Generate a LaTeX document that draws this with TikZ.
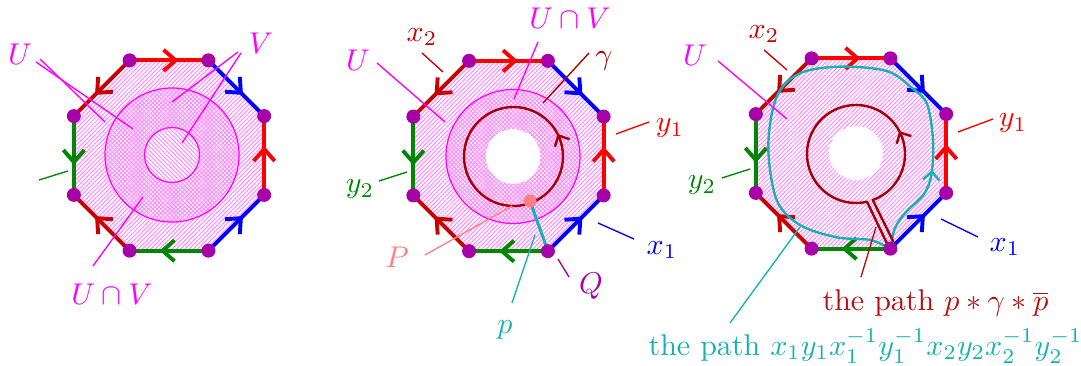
\documentclass[tikz,border=0pt]{standalone}
\usetikzlibrary{patterns.meta,decorations.markings,arrows.meta,calc}
\definecolor{mag}{RGB}{255,0,255}
\definecolor{dotc}{RGB}{168,0,168}
\definecolor{xtwo}{RGB}{200,0,0}
\definecolor{gamc}{RGB}{165,0,0}
\definecolor{ygreen}{RGB}{0,135,0}
\definecolor{tealc}{RGB}{20,178,178}
\definecolor{salm}{RGB}{255,128,128}
\definecolor{pathred}{RGB}{185,15,15}
\definecolor{hatchc}{RGB}{255,140,255}
\tikzset{
  edgeline/.style={line width=1.3pt, postaction={decorate}, decoration={markings, mark=at position 0.62 with {\arrow[line width=1.3pt]{Straight Barb[length=4pt,width=7pt]}}}},
  smallarrow/.style={decoration={markings, mark=at position 0.5 with {\arrow[line width=0.8pt]{Straight Barb[length=2.8pt,width=5.5pt]}}}, postaction={decorate}},
  vdot/.style={fill=dotc},
  ptr/.style={line width=0.45pt},
  hatchNE/.style={pattern={Lines[angle=45,distance=1pt,line width=0.35pt]}, pattern color=hatchc},
  hatchNW/.style={pattern={Lines[angle=-45,distance=1pt,line width=0.35pt]}, pattern color=hatchc},
  lab/.style={inner sep=0pt},
}
\newcommand{\octpts}[3]{%
  \foreach \a/\s in {-67.5/TR,-22.5/RT,22.5/RB,67.5/BR,112.5/BL,157.5/LB,202.5/LT,247.5/TL}{%
    \coordinate (#1\s) at ($(#2,#3)+(\a:103)$);}%
}
\newcommand{\octfill}[4]{%
  \fill[hatchNE, even odd rule] (#1TR) -- (#1RT) -- (#1RB) -- (#1BR) -- (#1BL) -- (#1LB) -- (#1LT) -- (#1TL) -- cycle (#2,#3) circle[radius=#4];}
\newcommand{\octedges}[1]{%
  \draw[edgeline, blue] (#1BR) -- (#1RB);
  \draw[edgeline, red] (#1RB) -- (#1RT);
  \draw[edgeline, blue] (#1TR) -- (#1RT);
  \draw[edgeline, red] (#1TL) -- (#1TR);
  \draw[edgeline, xtwo] (#1TL) -- (#1LT);
  \draw[edgeline, ygreen] (#1LT) -- (#1LB);
  \draw[edgeline, xtwo] (#1BL) -- (#1LB);
  \draw[edgeline, ygreen] (#1BR) -- (#1BL);}
\newcommand{\octdots}[1]{\foreach \s in {TR,RT,RB,BR,BL,LB,LT,TL}{\fill[vdot] (#1\s) circle[radius=7];}}
\newcommand{\ptrline}[4]{\coordinate (#2s) at (#3); \coordinate (#2e) at (#4); \draw[ptr,#1] (#2s) -- (#2e);}
\begin{document}
\begin{tikzpicture}[x=0.33333pt,y=-0.33333pt]
\useasboundingbox (0,0) rectangle (1081,366);
\octpts{a}{169}{155.5}
\octpts{b}{508.5}{156}
\octpts{c}{851}{153.5}
% ---------- panel 1
\octfill{a}{172}{155}{27.5}
\fill[hatchNW] (172,155) circle[radius=67];
\draw[mag, line width=0.4pt] (172,155) circle[radius=67] (172,155) circle[radius=27.5];
\octedges{a}
\octdots{a}
\node[lab,text=mag] (U1) at (20,54) {$U$};
\node[lab,text=mag] (V1) at (261,43) {$V$};
\node[lab,text=mag] (UV1) at (112,294) {$U\cap V$};
\ptrline{mag}{pu1}{40,59}{105,122}
\ptrline{mag}{pu2}{36,62}{133,129}
\ptrline{mag}{pv1}{238,52}{172,102}
\ptrline{mag}{pv2}{241,53}{182,143}
\ptrline{mag}{puv}{93,266}{143,197}
\ptrline{ygreen}{py}{39,180}{68,171}
% ---------- panel 2
\octfill{b}{513}{156.5}{27.5}
\fill[hatchNW, even odd rule] (513,156.5) circle[radius=67] (513,156.5) circle[radius=27.5];
\draw[mag, line width=0.4pt] (513,156.5) circle[radius=67];
\octedges{b}
\coordinate (g2) at (513.5,156.5);
\draw[gamc, line width=0.8pt] (g2) circle[radius=49.5];
\coordinate (g2a) at (559.9,138.5);
\coordinate (g2b) at (555.3,129.5);
\path[gamc, smallarrow] (g2a) -- (g2b);
\coordinate (P) at (530,201);
\draw[tealc, line width=1pt] (P) -- (bBR);
\fill[salm] (P) circle[radius=6.5];
\octdots{b}
\node[lab,text=xtwo] (X2b) at (422,37) {$x_2$};
\node[lab,text=mag] (U2) at (358,60) {$U$};
\node[lab,text=mag] (UV2) at (570,18) {$U\cap V$};
\node[lab,text=gamc] (G2) at (604,61) {$\gamma$};
\node[lab,text=red] (Y1b) at (670,128) {$y_1$};
\node[lab,text=ygreen] (Y2b) at (360,189) {$y_2$};
\node[lab,text=blue] (X1b) at (662,250) {$x_1$};
\node[lab,text=salm] (PL) at (397,257) {$P$};
\node[lab,text=dotc] (QL) at (591,286) {$Q$};
\node[lab,text=tealc] (pl) at (505,330) {$p$};
\ptrline{xtwo}{bx2}{422,53}{443,72}
\ptrline{mag}{bu}{377,63}{445,122}
\ptrline{mag}{buv}{538,42}{514,99}
\ptrline{gamc}{bg}{589,53}{543,103}
\ptrline{red}{by1}{649,122}{616,134}
\ptrline{ygreen}{by2}{379,181}{407,172}
\ptrline{blue}{bx1}{634,239}{598,223}
\ptrline{salm}{bP}{425,255}{512,206}
\ptrline{dotc}{bQ}{569,277}{558,259}
\ptrline{tealc}{bp}{512,303}{535,235}
% ---------- panel 3
\octfill{c}{856}{153}{27}
\octedges{c}
\coordinate (g3) at (856,154);
\coordinate (Qr) at (893.5,242);
\coordinate (Ql) at (887,243.5);
\draw[tealc, line width=0.8pt]
  plot[smooth, tension=0.55] coordinates {(cBR) (895,228) (906,212) (924,194) (931.5,174) (933,140) (927,104) (912,88) (886.7,71) (840,66.7) (800,73.3) (776.7,96.7) (768.3,146.7) (776.7,200) (800,225) (836.7,237.3) (870,240) (cBR)};
\coordinate (ca) at (931.6,176);
\coordinate (cb) at (932.4,164);
\path[tealc, smallarrow] (ca) -- (cb);
\draw[gamc, line width=0.8pt, line join=round] (Qr) -- ($(g3)+(70:49)$) arc[start angle=70, end angle=-283, radius=49] -- (Ql);
\coordinate (g3a) at (901.6,135.4);
\coordinate (g3b) at (897,126.6);
\path[gamc, smallarrow] (g3a) -- (g3b);
\octdots{c}
\node[lab,text=xtwo] (X2c) at (764,34) {$x_2$};
\node[lab,text=mag] (U3) at (695,55) {$U$};
\node[lab,text=red] (Y1c) at (1013,123) {$y_1$};
\node[lab,text=ygreen] (Y2c) at (702,185) {$y_2$};
\node[lab,text=blue] (X1c) at (1005,247) {$x_1$};
\node[lab,text=pathred,anchor=base west] (T1) at (822,311) {the path $p*\gamma*\overline{p}$};
\node[lab,text=tealc,anchor=base west] (T2) at (648,355) {the path $x_1y_1x_1^{-1}y_1^{-1}x_2y_2x_2^{-1}y_2^{-1}$};
\ptrline{xtwo}{cx2}{764,50}{787,70}
\ptrline{mag}{cu}{718,61}{787,119}
\ptrline{red}{cy1}{993,119}{958,132}
\ptrline{ygreen}{cy2}{722,178}{750,169}
\ptrline{blue}{cx1}{978,237}{941,219}
\ptrline{pathred}{ct1}{861,277}{876,227}
\ptrline{tealc}{ct2}{730,323}{800,227}
\end{tikzpicture}
\end{document}
